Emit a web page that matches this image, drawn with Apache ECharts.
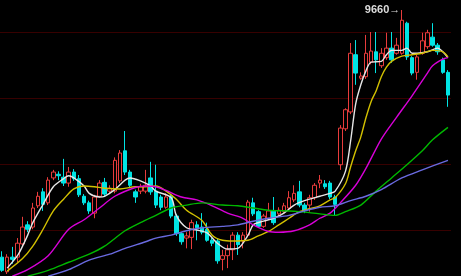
<!DOCTYPE html>
<html><head><meta charset="utf-8">
<script src="https://cdn.jsdelivr.net/npm/echarts@6/dist/echarts.min.js"></script>
<style>html,body{margin:0;padding:0;background:#000}#c{width:461px;height:276px}</style>
</head><body><div id="c"></div><script>
// [open, close, low, high]
const candles = [
[9323,9305,9303,9331],[9303,9323,9300,9327],[9323,9320,9314,9337],[9323,9342,9316,9349],
[9341,9364,9338,9378],[9367,9361,9357,9372],[9364,9390,9361,9397],[9393,9406,9390,9412],
[9412,9395,9386,9417],[9397,9428,9394,9432],[9431,9439,9428,9442],[9436,9434,9428,9440],
[9432,9424,9420,9457],[9424,9439,9419,9446],[9439,9430,9427,9443],[9430,9408,9405,9435],
[9406,9397,9394,9409],[9397,9386,9382,9400],[9383,9405,9376,9408],[9406,9424,9404,9428],
[9425,9409,9405,9431],[9413,9417,9409,9421],[9413,9455,9410,9459],[9427,9465,9424,9469],
[9468,9439,9435,9495],[9439,9421,9417,9442],[9412,9405,9397,9415],[9413,9419,9409,9423],
[9413,9421,9410,9442],[9431,9412,9408,9453],[9413,9394,9390,9449],[9405,9391,9387,9408],
[9391,9405,9389,9410],[9406,9379,9376,9409],[9379,9355,9352,9382],[9355,9344,9340,9357],
[9349,9352,9335,9357],[9350,9370,9334,9374],[9367,9363,9346,9372],[9364,9357,9354,9383],
[9361,9346,9344,9370],[9346,9342,9338,9349],[9345,9318,9314,9348],[9320,9325,9305,9333],
[9325,9333,9308,9340],[9333,9353,9319,9357],[9353,9340,9326,9357],[9345,9353,9335,9357],
[9353,9398,9350,9401],[9397,9382,9379,9404],[9385,9365,9363,9387],[9365,9379,9363,9382],
[9376,9386,9374,9397],[9386,9370,9367,9405],[9382,9387,9378,9391],[9385,9393,9382,9397],
[9390,9404,9387,9413],[9401,9410,9398,9421],[9412,9394,9391,9427],[9394,9387,9383,9397],
[9394,9404,9385,9408],[9404,9421,9401,9424],[9424,9428,9417,9435],[9423,9419,9416,9428],
[9424,9405,9402,9427],[9405,9395,9380,9408],[9449,9499,9442,9503],[9498,9524,9495,9526],
[9521,9601,9518,9615],[9599,9574,9558,9619],[9567,9570,9565,9575],[9569,9601,9566,9626],
[9589,9604,9586,9630],[9603,9592,9574,9630],[9584,9601,9581,9608],[9595,9608,9592,9629],
[9608,9592,9588,9630],[9601,9612,9599,9622],[9601,9646,9599,9660],[9642,9596,9592,9644],
[9595,9574,9571,9597],[9575,9596,9565,9599],[9601,9618,9599,9629],[9610,9629,9607,9633],
[9623,9612,9610,9642],[9612,9603,9599,9615],[9592,9575,9573,9595],[9575,9544,9528,9578]
];
// moving averages: [candle index, value]
const ma5 = [[1,9308],[3,9325],[4,9338],[5,9353],[6,9370],[8,9395],[10,9419],[12,9430],[13,9434],[14,9431],[16,9420],[17,9410],[19,9405],[20,9406],[22,9415],[24,9428],[25,9431],[27,9427],[29,9420],[30,9413],[33,9404],[34,9380],[36,9363],[38,9360],[40,9356],[42,9342],[44,9334],[46,9335],[48,9353],[49,9367],[51,9372],[53,9376],[55,9383],[57,9394],[59,9400],[62,9406],[64,9410],[65,9413],[67,9440],[68,9481],[69,9532],[70,9558],[71,9577],[72,9589],[74,9590],[75,9599],[76,9605],[78,9605],[79,9608],[80,9601],[81,9601],[83,9603],[85,9608],[86,9603],[87,9595]];
const ma10 = [[1,9304],[4,9321],[6,9338],[8,9361],[10,9386],[12,9402],[14,9416],[16,9420],[18,9419],[20,9417],[23,9416],[26,9419],[28,9419],[30,9420],[32,9413],[34,9402],[36,9387],[39,9373],[41,9353],[43,9346],[45,9345],[48,9346],[50,9352],[52,9358],[54,9367],[56,9376],[58,9385],[60,9389],[62,9393],[64,9401],[65,9404],[67,9423],[68,9446],[69,9468],[70,9487],[71,9513],[72,9535],[73,9550],[74,9569],[75,9582],[76,9590],[78,9597],[80,9599],[82,9601],[84,9605],[86,9603],[87,9596]];
const ma20 = [[2,9297],[5,9306],[9,9325],[13,9361],[16,9374],[19,9390],[22,9406],[26,9418],[28,9420],[30,9419],[32,9414],[35,9405],[38,9401],[41,9393],[44,9383],[47,9376],[49,9367],[52,9358],[54,9357],[57,9359],[60,9367],[62,9376],[64,9383],[66,9397],[69,9421],[71,9444],[74,9484],[77,9514],[80,9543],[83,9574],[84,9584],[86,9593],[87,9595]];
const ma60 = [[5,9297],[9,9305],[13,9316],[17,9327],[20,9338],[24,9359],[27,9370],[30,9380],[33,9390],[36,9394],[39,9397],[43,9394],[46,9393],[49,9390],[52,9387],[56,9386],[58,9385],[62,9382],[65,9380],[67,9385],[70,9394],[73,9413],[76,9431],[79,9449],[82,9468],[84,9483],[87,9500]];
const ma120 = [[9,9297],[13,9306],[17,9319],[21,9327],[24,9335],[28,9344],[30,9349],[33,9353],[36,9359],[39,9363],[43,9365],[46,9367],[49,9372],[52,9376],[56,9380],[59,9386],[62,9391],[65,9393],[68,9400],[71,9406],[74,9415],[78,9431],[82,9442],[87,9455]];
const categories = candles.map((_, i) => String(i + 1));
const yMin = 9270, yMax = 9720, yStep = 90;

const chart = echarts.init(document.getElementById('c'), null, {renderer: 'canvas'});
function maLine(name, data, color) {
  return { name, type: 'line', data, smooth: 0.3, symbol: 'none', z: 3,
    lineStyle: { color, width: 1.4 }, itemStyle: { color } };
}
chart.setOption({
  backgroundColor: '#000',
  animation: false,
  grid: { left: -0.5, right: 10.5, top: -34, height: 330, outerBoundsMode: 'none' },
  xAxis: { type: 'category', data: categories, boundaryGap: true, show: false },
  yAxis: { type: 'value', min: yMin, max: yMax, interval: yStep,
    axisLabel: { show: false }, axisLine: { show: false }, axisTick: { show: false },
    splitLine: { show: true, lineStyle: { color: '#6e0000', type: [1, 1], width: 1 } } },
  series: [
    { name: 'K', type: 'candlestick', data: candles, barWidth: 4, z: 2,
      itemStyle: { color: '#000000', color0: '#00e4e4', borderColor: '#e83c3c', borderColor0: '#00e4e4', borderWidth: 1 },
      markPoint: { symbol: 'circle', symbolSize: 1, itemStyle: { color: 'rgba(0,0,0,0)' },
        data: [{ type: 'max', valueDim: 'highest', name: 'max' }],
        label: { show: true, position: 'left', distance: 1, formatter: p => p.value + '→',
          color: '#dcdcdc', fontSize: 11, fontWeight: 'bold', fontFamily: 'Liberation Sans, Arial, sans-serif' } } },
    maLine('MA5', ma5, '#e6e6e6'),
    maLine('MA10', ma10, '#d2c000'),
    maLine('MA20', ma20, '#d800d8'),
    maLine('MA60', ma60, '#00b800'),
    maLine('MA120', ma120, '#6a6ae0')
  ]
});
</script></body></html>
